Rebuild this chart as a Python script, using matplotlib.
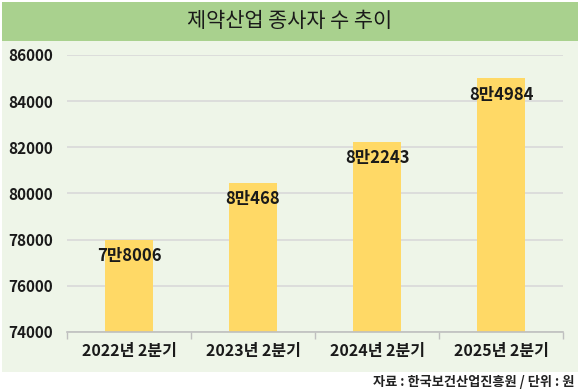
import matplotlib
matplotlib.use("Agg")
import matplotlib.pyplot as plt
from matplotlib.patches import Rectangle

plt.rcParams['font.family'] = ['Noto Sans CJK KR', 'DejaVu Sans']

categories = ["2022년 2분기", "2023년 2분기", "2024년 2분기", "2025년 2분기"]
values = [78006, 80468, 82243, 84984]
labels = ["7만8006", "8만468", "8만2243", "8만4984"]
yticks = [74000, 76000, 78000, 80000, 82000, 84000, 86000]
title = "제약산업 종사자 수 추이"
source = "자료 : 한국보건산업진흥원 / 단위 : 원"

W, H = 580, 392
fig = plt.figure(figsize=(W/100, H/100), dpi=100)
fig.patch.set_facecolor("white")

# panel backgrounds
fig.add_artist(Rectangle((2/W, 1-41/H), 576/W, 39/H, transform=fig.transFigure,
                         facecolor="#a9d18e", edgecolor="none", zorder=0))
fig.add_artist(Rectangle((2/W, 1-372/H), 576/W, 331/H, transform=fig.transFigure,
                         facecolor="#eef5e8", edgecolor="none", zorder=0))
fig.text(0.5, 1-21/H, title, ha="center", va="center", fontsize=15,
         color="#1a1a1a")
fig.text(574/W, 1-382/H, source, ha="right", va="center", fontsize=9.5,
         fontweight="bold", color="#222222")

ax = fig.add_axes([67/W, 1-332/H, 496/W, 277/H])
ax.set_facecolor("none")
x = range(len(categories))
ax.bar(x, values, width=0.39, color="#ffd966", zorder=2)
for xi, v, lab in zip(x, values, labels):
    ax.text(xi, v - 720, lab, ha="center", va="center", fontsize=12,
            fontweight="bold", color="#1a1a1a", zorder=3)

ax.set_ylim(74000, 86000)
ax.set_xlim(-0.5, len(categories) - 0.5)
ax.set_yticks(yticks)
ax.set_yticklabels([str(t) for t in yticks], fontsize=11, fontweight="bold",
                   color="#1a1a1a")
ax.yaxis.grid(True, color="#d9d9d9", linewidth=1.2, zorder=1)
ax.set_axisbelow(True)
ax.tick_params(axis="y", length=0, pad=10)
ax.set_xticks(list(x))
ax.set_xticklabels(categories, fontsize=11.5, fontweight="bold", color="#1a1a1a")
ax.set_xticks([i - 0.5 for i in range(len(categories) + 1)], minor=True)
ax.tick_params(axis="x", which="major", length=0, pad=8)
ax.tick_params(axis="x", which="minor", length=5, color="#bfbfbf", width=1)
for s in ["top", "right", "left"]:
    ax.spines[s].set_visible(False)
ax.spines["bottom"].set_color("#bfbfbf")
ax.spines["bottom"].set_linewidth(1.2)

fig.savefig("out.png", dpi=100)
